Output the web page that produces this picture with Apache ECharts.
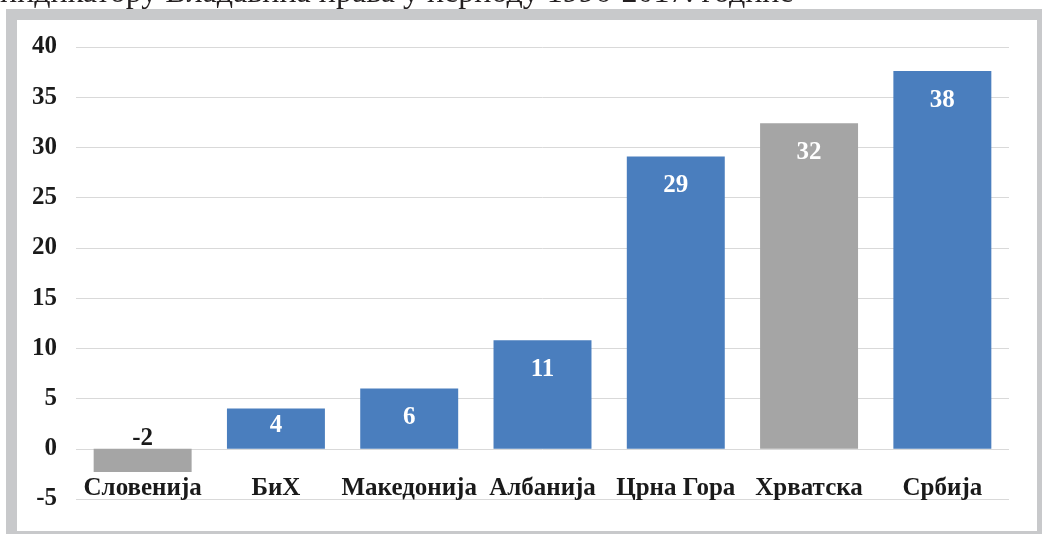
<!DOCTYPE html>
<html>
<head>
<meta charset="utf-8">
<script src="https://cdn.jsdelivr.net/npm/echarts@6/dist/echarts.min.js"></script>
<style>
html,body{margin:0;padding:0;background:#fff;}
#chart{width:1042px;height:534px;}
</style>
</head>
<body>
<div id="chart"></div>
<script>
const categories = ['Словенија', 'БиХ', 'Македонија', 'Албанија', 'Црна Гора', 'Хрватска', 'Србија'];
const values = [-2.3, 4.0, 6.0, 10.8, 29.1, 32.4, 37.6];
const grayCategories = ['Словенија', 'Хрватска'];
const yTicks = { min: -5, max: 40, interval: 5 };
const caption = 'индикатору Владавина права у периоду 1996-2017. године';

const BLUE = '#4a7ebe';
const GRAY = '#a5a5a5';
const FONT = '"Liberation Serif", "DejaVu Serif", serif';

const chart = echarts.init(document.getElementById('chart'), null, { renderer: 'canvas' });

const seriesData = categories.map((c, i) => {
  const v = values[i];
  const item = {
    value: v,
    itemStyle: { color: grayCategories.includes(c) ? GRAY : BLUE }
  };
  if (v < 0) {
    item.label = { position: 'top', distance: -2, color: '#1a1a1a' };
  } else if (v < 5) {
    item.label = { position: 'insideTop', distance: 4 };
  }
  return item;
});

chart.setOption({
  backgroundColor: '#ffffff',
  animation: false,
  graphic: [
    { type: 'rect', z: -10, shape: { x: 6, y: 9, width: 1036, height: 525 }, style: { fill: '#c8c9cb' } },
    { type: 'rect', z: -9, shape: { x: 17, y: 20, width: 1020, height: 511 }, style: { fill: '#ffffff' } },
    { type: 'text', z: 10, x: 0, y: 10, style: { text: caption, font: '32px ' + FONT, fill: '#231f20', verticalAlign: 'bottom', align: 'left' } }
  ],
  grid: { left: 76, right: 33, top: 47, bottom: 35, containLabel: false, outerBoundsMode: 'none' },
  xAxis: {
    type: 'category',
    data: categories,
    axisLine: { show: false, onZero: false },
    axisTick: { show: false },
    axisLabel: { interval: 0, margin: -23, fontFamily: FONT, fontWeight: 'bold', fontSize: 25, color: '#1a1a1a' }
  },
  yAxis: {
    type: 'value',
    min: yTicks.min,
    max: yTicks.max,
    interval: yTicks.interval,
    axisLine: { show: false },
    axisTick: { show: false },
    splitLine: { lineStyle: { color: '#d9d9d9', width: 1 } },
    axisLabel: { margin: 19, padding: [4, 0, 0, 0], fontFamily: FONT, fontWeight: 'bold', fontSize: 25, color: '#1a1a1a' }
  },
  series: [{
    type: 'bar',
    data: seriesData,
    barWidth: '73.5%',
    label: {
      show: true,
      position: 'insideTop',
      distance: 17,
      fontFamily: FONT,
      fontWeight: 'bold',
      fontSize: 25,
      color: '#ffffff',
      formatter: p => String(Math.round(p.value))
    }
  }]
});
</script>
</body>
</html>
